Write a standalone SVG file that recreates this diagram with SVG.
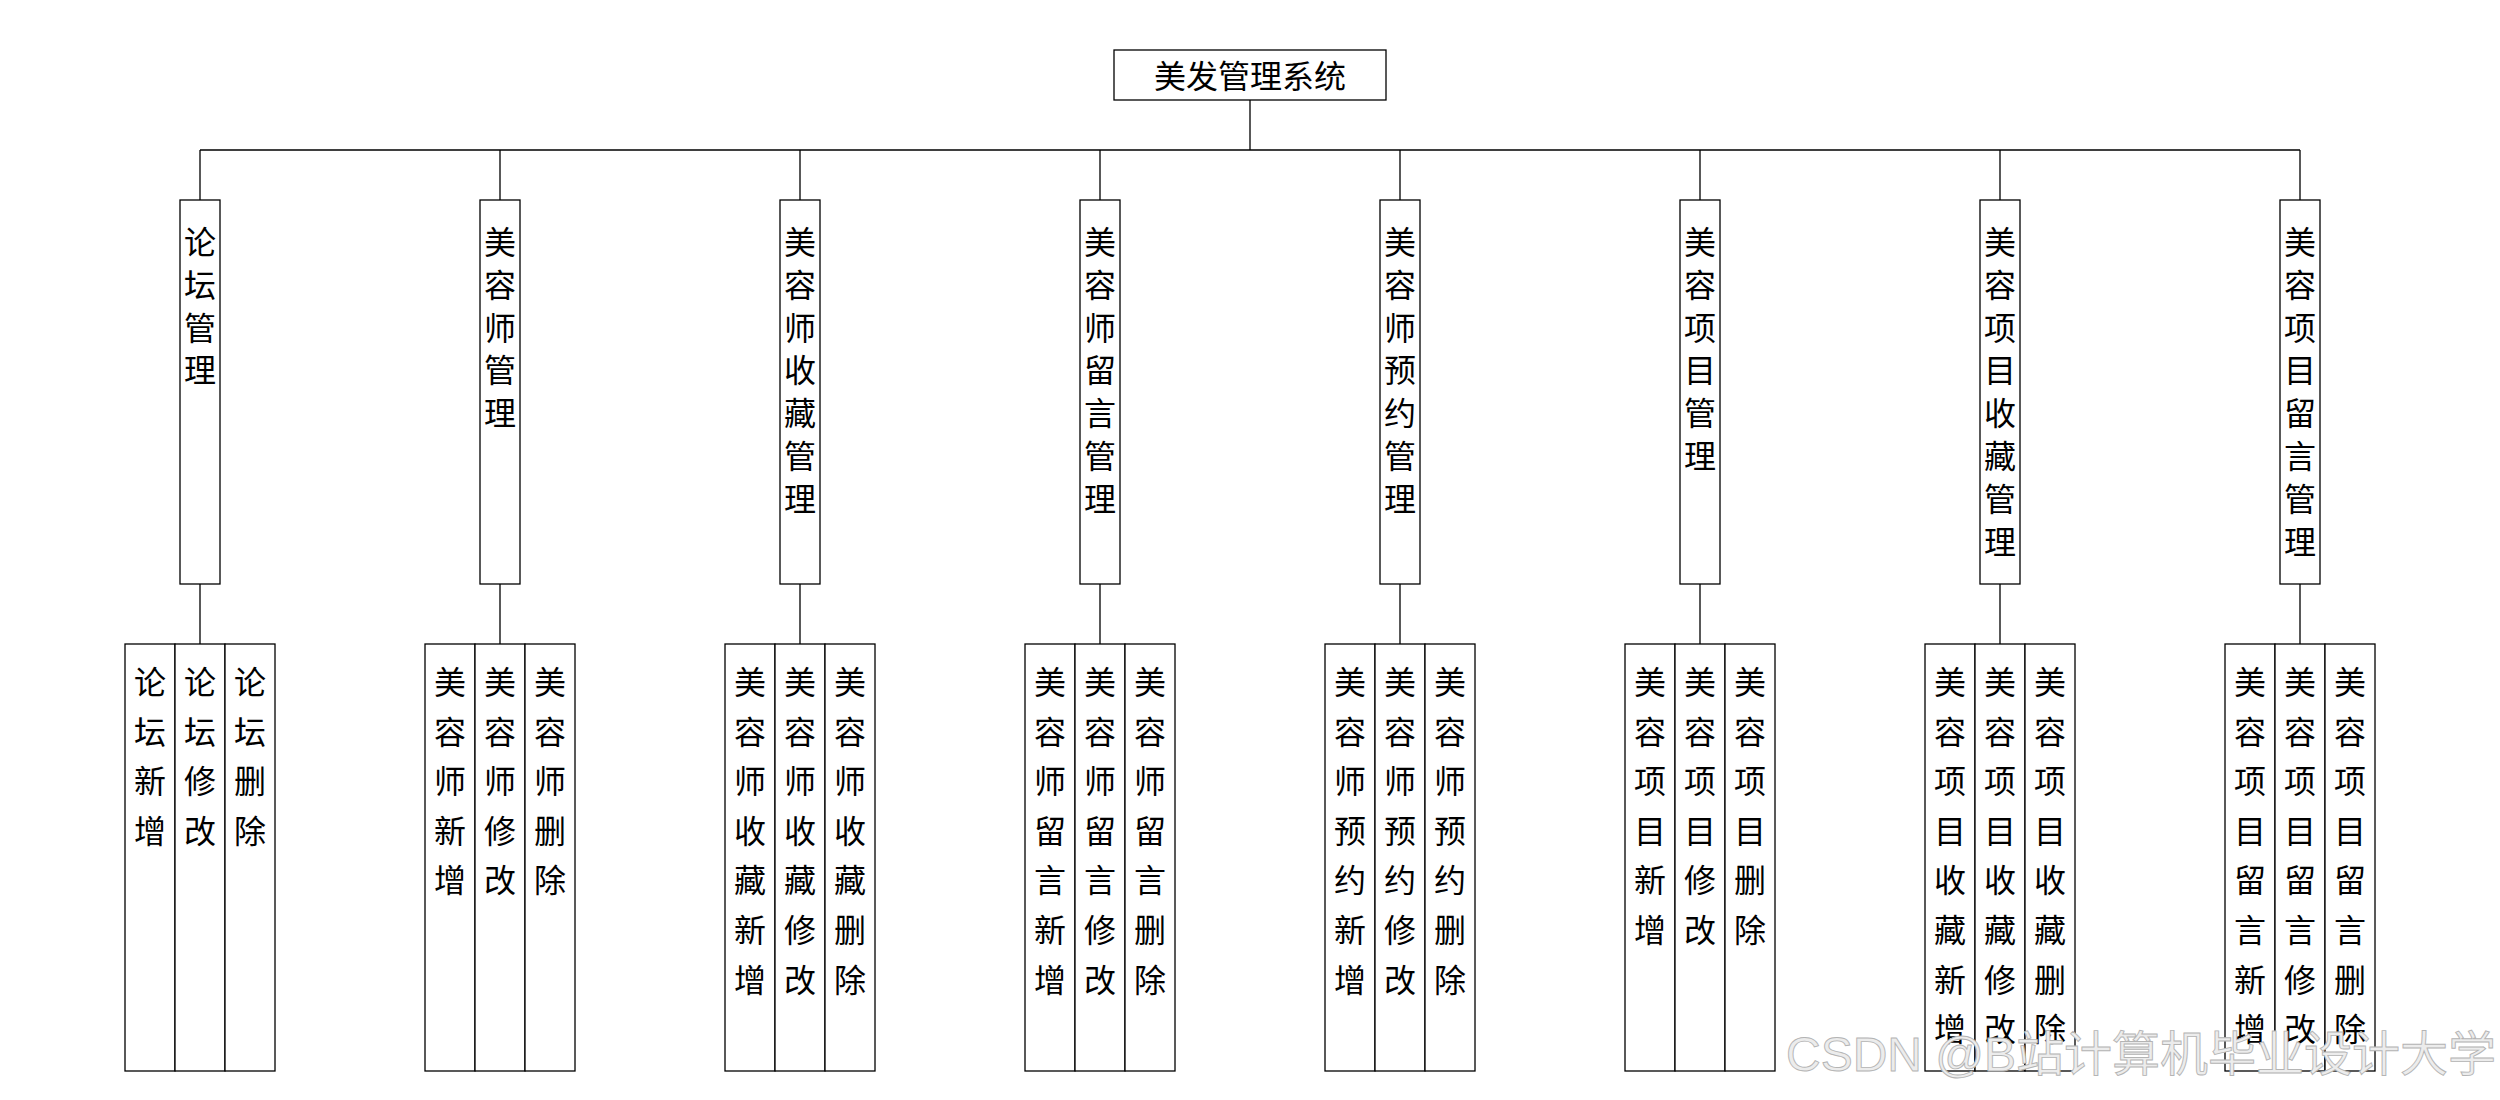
<svg xmlns="http://www.w3.org/2000/svg" width="2500" height="1100" viewBox="0 0 2500 1100">
<style>
.box{fill:#fff;stroke:#000;stroke-width:1.3}
.ln{fill:none;stroke:#000;stroke-width:1.3}
.t{font-family:"Noto Sans CJK SC","Noto Sans",sans-serif;font-size:32px;fill:#000;text-anchor:middle}
.wm{font-family:"Liberation Sans","Noto Sans CJK SC",sans-serif;font-size:48px;fill:#ececec;stroke:#b4b4b4;stroke-width:0.9}
</style>
<rect width="2500" height="1100" fill="#fff"/>
<g id="connectors">
<path class="ln" d="M1250 100V150M200 150H2300M200 150V200M500 150V200M800 150V200M1100 150V200M1400 150V200M1700 150V200M2000 150V200M2300 150V200"/>
<path class="ln" d="M200 584V644M500 584V644M800 584V644M1100 584V644M1400 584V644M1700 584V644M2000 584V644M2300 584V644"/>
</g>
<g id="root">
<rect class="box" x="1114" y="50" width="272" height="50"/>
<text class="t" x="1250" y="88">美发管理系统</text>
</g>
<g id="n1">
<rect class="box" x="180" y="200" width="40" height="384"/>
<text class="t"><tspan x="200" y="254">论</tspan><tspan x="200" dy="42.8">坛</tspan><tspan x="200" dy="42.8">管</tspan><tspan x="200" dy="42.8">理</tspan></text>
</g>
<g id="n2">
<rect class="box" x="480" y="200" width="40" height="384"/>
<text class="t"><tspan x="500" y="254">美</tspan><tspan x="500" dy="42.8">容</tspan><tspan x="500" dy="42.8">师</tspan><tspan x="500" dy="42.8">管</tspan><tspan x="500" dy="42.8">理</tspan></text>
</g>
<g id="n3">
<rect class="box" x="780" y="200" width="40" height="384"/>
<text class="t"><tspan x="800" y="254">美</tspan><tspan x="800" dy="42.8">容</tspan><tspan x="800" dy="42.8">师</tspan><tspan x="800" dy="42.8">收</tspan><tspan x="800" dy="42.8">藏</tspan><tspan x="800" dy="42.8">管</tspan><tspan x="800" dy="42.8">理</tspan></text>
</g>
<g id="n4">
<rect class="box" x="1080" y="200" width="40" height="384"/>
<text class="t"><tspan x="1100" y="254">美</tspan><tspan x="1100" dy="42.8">容</tspan><tspan x="1100" dy="42.8">师</tspan><tspan x="1100" dy="42.8">留</tspan><tspan x="1100" dy="42.8">言</tspan><tspan x="1100" dy="42.8">管</tspan><tspan x="1100" dy="42.8">理</tspan></text>
</g>
<g id="n5">
<rect class="box" x="1380" y="200" width="40" height="384"/>
<text class="t"><tspan x="1400" y="254">美</tspan><tspan x="1400" dy="42.8">容</tspan><tspan x="1400" dy="42.8">师</tspan><tspan x="1400" dy="42.8">预</tspan><tspan x="1400" dy="42.8">约</tspan><tspan x="1400" dy="42.8">管</tspan><tspan x="1400" dy="42.8">理</tspan></text>
</g>
<g id="n6">
<rect class="box" x="1680" y="200" width="40" height="384"/>
<text class="t"><tspan x="1700" y="254">美</tspan><tspan x="1700" dy="42.8">容</tspan><tspan x="1700" dy="42.8">项</tspan><tspan x="1700" dy="42.8">目</tspan><tspan x="1700" dy="42.8">管</tspan><tspan x="1700" dy="42.8">理</tspan></text>
</g>
<g id="n7">
<rect class="box" x="1980" y="200" width="40" height="384"/>
<text class="t"><tspan x="2000" y="254">美</tspan><tspan x="2000" dy="42.8">容</tspan><tspan x="2000" dy="42.8">项</tspan><tspan x="2000" dy="42.8">目</tspan><tspan x="2000" dy="42.8">收</tspan><tspan x="2000" dy="42.8">藏</tspan><tspan x="2000" dy="42.8">管</tspan><tspan x="2000" dy="42.8">理</tspan></text>
</g>
<g id="n8">
<rect class="box" x="2280" y="200" width="40" height="384"/>
<text class="t"><tspan x="2300" y="254">美</tspan><tspan x="2300" dy="42.8">容</tspan><tspan x="2300" dy="42.8">项</tspan><tspan x="2300" dy="42.8">目</tspan><tspan x="2300" dy="42.8">留</tspan><tspan x="2300" dy="42.8">言</tspan><tspan x="2300" dy="42.8">管</tspan><tspan x="2300" dy="42.8">理</tspan></text>
</g>

<g id="n1a"><rect class="box" x="125" y="644" width="50" height="427"/><text class="t"><tspan x="150" y="694">论</tspan><tspan x="150" dy="49.6">坛</tspan><tspan x="150" dy="49.6">新</tspan><tspan x="150" dy="49.6">增</tspan></text></g>
<g id="n1b"><rect class="box" x="175" y="644" width="50" height="427"/><text class="t"><tspan x="200" y="694">论</tspan><tspan x="200" dy="49.6">坛</tspan><tspan x="200" dy="49.6">修</tspan><tspan x="200" dy="49.6">改</tspan></text></g>
<g id="n1c"><rect class="box" x="225" y="644" width="50" height="427"/><text class="t"><tspan x="250" y="694">论</tspan><tspan x="250" dy="49.6">坛</tspan><tspan x="250" dy="49.6">删</tspan><tspan x="250" dy="49.6">除</tspan></text></g>

<g id="n2a"><rect class="box" x="425" y="644" width="50" height="427"/><text class="t"><tspan x="450" y="694">美</tspan><tspan x="450" dy="49.6">容</tspan><tspan x="450" dy="49.6">师</tspan><tspan x="450" dy="49.6">新</tspan><tspan x="450" dy="49.6">增</tspan></text></g>
<g id="n2b"><rect class="box" x="475" y="644" width="50" height="427"/><text class="t"><tspan x="500" y="694">美</tspan><tspan x="500" dy="49.6">容</tspan><tspan x="500" dy="49.6">师</tspan><tspan x="500" dy="49.6">修</tspan><tspan x="500" dy="49.6">改</tspan></text></g>
<g id="n2c"><rect class="box" x="525" y="644" width="50" height="427"/><text class="t"><tspan x="550" y="694">美</tspan><tspan x="550" dy="49.6">容</tspan><tspan x="550" dy="49.6">师</tspan><tspan x="550" dy="49.6">删</tspan><tspan x="550" dy="49.6">除</tspan></text></g>

<g id="n3a"><rect class="box" x="725" y="644" width="50" height="427"/><text class="t"><tspan x="750" y="694">美</tspan><tspan x="750" dy="49.6">容</tspan><tspan x="750" dy="49.6">师</tspan><tspan x="750" dy="49.6">收</tspan><tspan x="750" dy="49.6">藏</tspan><tspan x="750" dy="49.6">新</tspan><tspan x="750" dy="49.6">增</tspan></text></g>
<g id="n3b"><rect class="box" x="775" y="644" width="50" height="427"/><text class="t"><tspan x="800" y="694">美</tspan><tspan x="800" dy="49.6">容</tspan><tspan x="800" dy="49.6">师</tspan><tspan x="800" dy="49.6">收</tspan><tspan x="800" dy="49.6">藏</tspan><tspan x="800" dy="49.6">修</tspan><tspan x="800" dy="49.6">改</tspan></text></g>
<g id="n3c"><rect class="box" x="825" y="644" width="50" height="427"/><text class="t"><tspan x="850" y="694">美</tspan><tspan x="850" dy="49.6">容</tspan><tspan x="850" dy="49.6">师</tspan><tspan x="850" dy="49.6">收</tspan><tspan x="850" dy="49.6">藏</tspan><tspan x="850" dy="49.6">删</tspan><tspan x="850" dy="49.6">除</tspan></text></g>

<g id="n4a"><rect class="box" x="1025" y="644" width="50" height="427"/><text class="t"><tspan x="1050" y="694">美</tspan><tspan x="1050" dy="49.6">容</tspan><tspan x="1050" dy="49.6">师</tspan><tspan x="1050" dy="49.6">留</tspan><tspan x="1050" dy="49.6">言</tspan><tspan x="1050" dy="49.6">新</tspan><tspan x="1050" dy="49.6">增</tspan></text></g>
<g id="n4b"><rect class="box" x="1075" y="644" width="50" height="427"/><text class="t"><tspan x="1100" y="694">美</tspan><tspan x="1100" dy="49.6">容</tspan><tspan x="1100" dy="49.6">师</tspan><tspan x="1100" dy="49.6">留</tspan><tspan x="1100" dy="49.6">言</tspan><tspan x="1100" dy="49.6">修</tspan><tspan x="1100" dy="49.6">改</tspan></text></g>
<g id="n4c"><rect class="box" x="1125" y="644" width="50" height="427"/><text class="t"><tspan x="1150" y="694">美</tspan><tspan x="1150" dy="49.6">容</tspan><tspan x="1150" dy="49.6">师</tspan><tspan x="1150" dy="49.6">留</tspan><tspan x="1150" dy="49.6">言</tspan><tspan x="1150" dy="49.6">删</tspan><tspan x="1150" dy="49.6">除</tspan></text></g>

<g id="n5a"><rect class="box" x="1325" y="644" width="50" height="427"/><text class="t"><tspan x="1350" y="694">美</tspan><tspan x="1350" dy="49.6">容</tspan><tspan x="1350" dy="49.6">师</tspan><tspan x="1350" dy="49.6">预</tspan><tspan x="1350" dy="49.6">约</tspan><tspan x="1350" dy="49.6">新</tspan><tspan x="1350" dy="49.6">增</tspan></text></g>
<g id="n5b"><rect class="box" x="1375" y="644" width="50" height="427"/><text class="t"><tspan x="1400" y="694">美</tspan><tspan x="1400" dy="49.6">容</tspan><tspan x="1400" dy="49.6">师</tspan><tspan x="1400" dy="49.6">预</tspan><tspan x="1400" dy="49.6">约</tspan><tspan x="1400" dy="49.6">修</tspan><tspan x="1400" dy="49.6">改</tspan></text></g>
<g id="n5c"><rect class="box" x="1425" y="644" width="50" height="427"/><text class="t"><tspan x="1450" y="694">美</tspan><tspan x="1450" dy="49.6">容</tspan><tspan x="1450" dy="49.6">师</tspan><tspan x="1450" dy="49.6">预</tspan><tspan x="1450" dy="49.6">约</tspan><tspan x="1450" dy="49.6">删</tspan><tspan x="1450" dy="49.6">除</tspan></text></g>

<g id="n6a"><rect class="box" x="1625" y="644" width="50" height="427"/><text class="t"><tspan x="1650" y="694">美</tspan><tspan x="1650" dy="49.6">容</tspan><tspan x="1650" dy="49.6">项</tspan><tspan x="1650" dy="49.6">目</tspan><tspan x="1650" dy="49.6">新</tspan><tspan x="1650" dy="49.6">增</tspan></text></g>
<g id="n6b"><rect class="box" x="1675" y="644" width="50" height="427"/><text class="t"><tspan x="1700" y="694">美</tspan><tspan x="1700" dy="49.6">容</tspan><tspan x="1700" dy="49.6">项</tspan><tspan x="1700" dy="49.6">目</tspan><tspan x="1700" dy="49.6">修</tspan><tspan x="1700" dy="49.6">改</tspan></text></g>
<g id="n6c"><rect class="box" x="1725" y="644" width="50" height="427"/><text class="t"><tspan x="1750" y="694">美</tspan><tspan x="1750" dy="49.6">容</tspan><tspan x="1750" dy="49.6">项</tspan><tspan x="1750" dy="49.6">目</tspan><tspan x="1750" dy="49.6">删</tspan><tspan x="1750" dy="49.6">除</tspan></text></g>

<g id="n7a"><rect class="box" x="1925" y="644" width="50" height="427"/><text class="t"><tspan x="1950" y="694">美</tspan><tspan x="1950" dy="49.6">容</tspan><tspan x="1950" dy="49.6">项</tspan><tspan x="1950" dy="49.6">目</tspan><tspan x="1950" dy="49.6">收</tspan><tspan x="1950" dy="49.6">藏</tspan><tspan x="1950" dy="49.6">新</tspan><tspan x="1950" dy="49.6">增</tspan></text></g>
<g id="n7b"><rect class="box" x="1975" y="644" width="50" height="427"/><text class="t"><tspan x="2000" y="694">美</tspan><tspan x="2000" dy="49.6">容</tspan><tspan x="2000" dy="49.6">项</tspan><tspan x="2000" dy="49.6">目</tspan><tspan x="2000" dy="49.6">收</tspan><tspan x="2000" dy="49.6">藏</tspan><tspan x="2000" dy="49.6">修</tspan><tspan x="2000" dy="49.6">改</tspan></text></g>
<g id="n7c"><rect class="box" x="2025" y="644" width="50" height="427"/><text class="t"><tspan x="2050" y="694">美</tspan><tspan x="2050" dy="49.6">容</tspan><tspan x="2050" dy="49.6">项</tspan><tspan x="2050" dy="49.6">目</tspan><tspan x="2050" dy="49.6">收</tspan><tspan x="2050" dy="49.6">藏</tspan><tspan x="2050" dy="49.6">删</tspan><tspan x="2050" dy="49.6">除</tspan></text></g>

<g id="n8a"><rect class="box" x="2225" y="644" width="50" height="427"/><text class="t"><tspan x="2250" y="694">美</tspan><tspan x="2250" dy="49.6">容</tspan><tspan x="2250" dy="49.6">项</tspan><tspan x="2250" dy="49.6">目</tspan><tspan x="2250" dy="49.6">留</tspan><tspan x="2250" dy="49.6">言</tspan><tspan x="2250" dy="49.6">新</tspan><tspan x="2250" dy="49.6">增</tspan></text></g>
<g id="n8b"><rect class="box" x="2275" y="644" width="50" height="427"/><text class="t"><tspan x="2300" y="694">美</tspan><tspan x="2300" dy="49.6">容</tspan><tspan x="2300" dy="49.6">项</tspan><tspan x="2300" dy="49.6">目</tspan><tspan x="2300" dy="49.6">留</tspan><tspan x="2300" dy="49.6">言</tspan><tspan x="2300" dy="49.6">修</tspan><tspan x="2300" dy="49.6">改</tspan></text></g>
<g id="n8c"><rect class="box" x="2325" y="644" width="50" height="427"/><text class="t"><tspan x="2350" y="694">美</tspan><tspan x="2350" dy="49.6">容</tspan><tspan x="2350" dy="49.6">项</tspan><tspan x="2350" dy="49.6">目</tspan><tspan x="2350" dy="49.6">留</tspan><tspan x="2350" dy="49.6">言</tspan><tspan x="2350" dy="49.6">删</tspan><tspan x="2350" dy="49.6">除</tspan></text></g>

<text class="wm" x="1786" y="1071">CSDN @B站计算机毕业设计大学</text>
</svg>
